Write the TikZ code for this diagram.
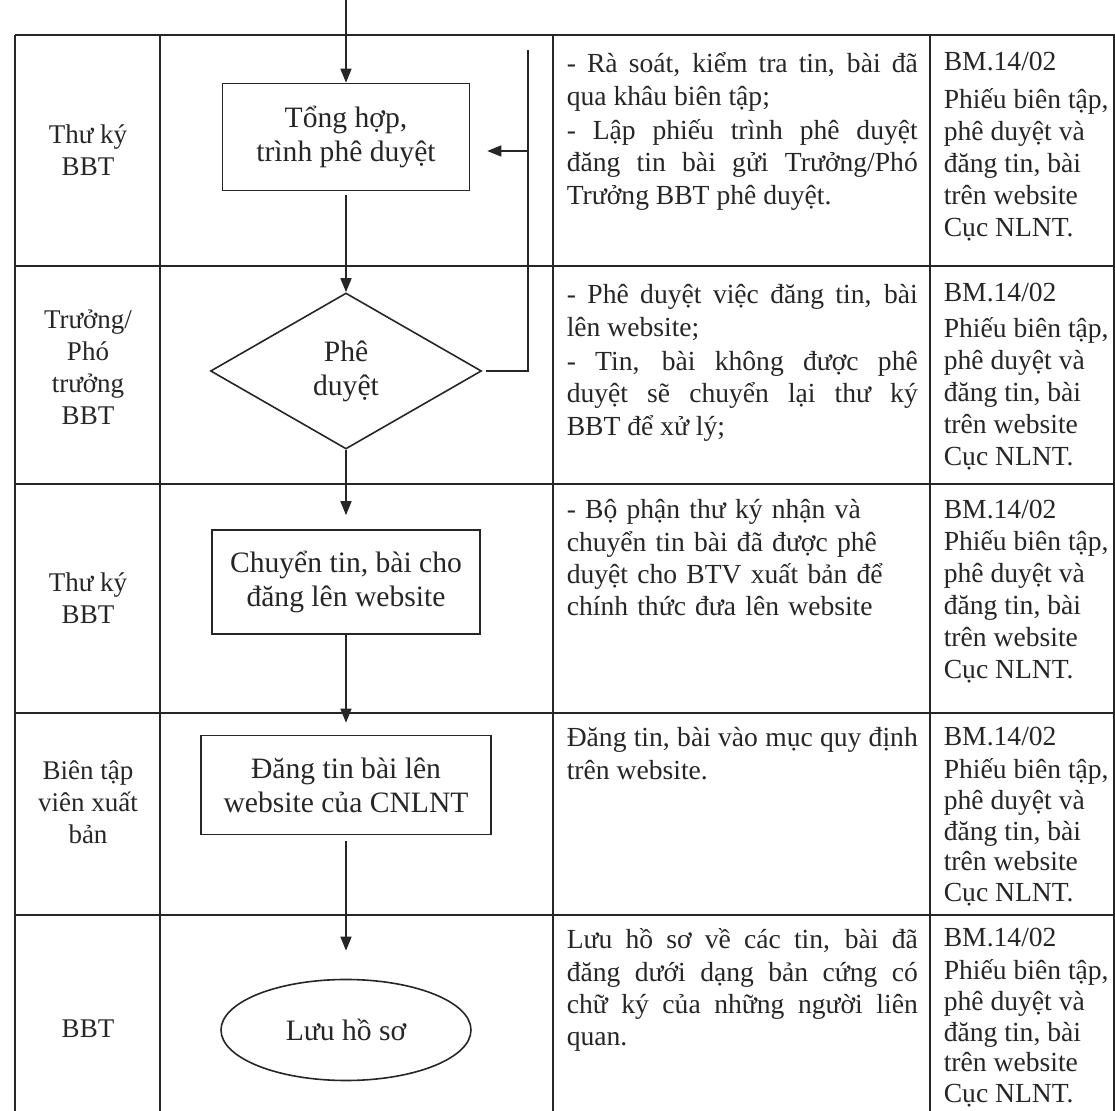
\documentclass[tikz,border=0pt]{standalone}
\usepackage{fontspec}
\setmainfont{Liberation Serif}
\usetikzlibrary{shapes.geometric,arrows.meta}
\setlength{\parindent}{0pt}
\newcommand{\fl}{\rule{0pt}{14pt}}

\begin{document}
\begin{tikzpicture}[x=0.5pt, y=-0.5pt, line width=0.8pt, color=black!85,
    role/.style={align=center, inner sep=0pt, font=\fontsize{13.5}{16}\selectfont},
    desc/.style={anchor=north west, inner sep=0pt, text width=175.5pt, align=justify, font=\fontsize{13.8}{16.2}\selectfont},
    form/.style={anchor=north west, inner sep=0pt, align=left, font=\fontsize{13.8}{16}\selectfont},
    tight/.style={font=\fontsize{13.8}{15.4}\selectfont},
    proc/.style={draw, rectangle, align=center, inner sep=0pt, font=\fontsize{14.8}{17}\selectfont},
    decision/.style={draw, diamond, align=center, inner sep=0pt, minimum width=135.5pt, minimum height=78pt, font=\fontsize{14.8}{17}\selectfont},
    stop/.style={draw, ellipse, align=center, inner sep=0pt, minimum width=125pt, minimum height=50.5pt, font=\fontsize{14.8}{17}\selectfont},
    arr/.style={-{Triangle[length=7pt,width=5.5pt]}}]

\useasboundingbox (0,0) rectangle (1115,1111);

% khung bang
\foreach \y in {35,266,484,713,915}
    \draw (15,\y) -- (1115,\y);
\foreach \x in {15,160,553,930,1114}
    \draw (\x,35) -- (\x,1111);

% cot nguoi thuc hien
\node[role] (r1) at (88,150) {Thư ký\\BBT};
\node[role] (r2) at (88,367) {Trưởng/\\Phó\\trưởng\\BBT};
\node[role] (r3) at (88,598) {Thư ký\\BBT};
\node[role] (r4) at (88,802) {Biên tập\\viên xuất\\bản};
\node[role] (r5) at (88,1029) {BBT};

% luu do
\coordinate (in) at (346,0);
\node[proc, minimum width=123.5pt, minimum height=53.5pt] (th) at (346,137) {Tổng hợp,\\trình phê duyệt};
\node[decision] (pd) at (346,371) {Phê\\duyệt};
\node[proc, minimum width=134pt, minimum height=52pt] (ct) at (346,582) {Chuyển tin, bài cho\\đăng lên website};
\node[proc, minimum width=145pt, minimum height=49.5pt] (dt) at (346,785) {Đăng tin bài lên\\website của CNLNT};
\node[stop] (lh) at (346,1030) {Lưu hồ sơ};
\coordinate (fbtop) at (528,50);
\coordinate (fbin) at (528,151);

\draw[arr] (in) -- (th);
\draw[arr, shorten <=2pt] (th) -- (pd);
\draw[arr, shorten >=7pt] (pd) -- (ct);
\draw[arr, shorten >=6pt] (ct) -- (dt);
\draw[arr, shorten <=3pt, shorten >=14pt] (dt) -- (lh);
\draw[shorten <=2pt] (pd.east) -| (fbtop);
\draw[arr, shorten >=8.5pt] (fbin) -- (fbin -| th.east);

% cot mo ta
\node[desc] (d1) at (566,44) {\fl - Rà soát, kiểm tra tin, bài đã\linebreak qua khâu biên tập;\par\vspace{1pt} - Lập phiếu trình phê duyệt\linebreak đăng tin bài gửi Trưởng/Phó\linebreak Trưởng BBT phê duyệt.};
\node[desc] (d2) at (566,275) {\fl - Phê duyệt việc đăng tin, bài\linebreak lên website;\par\vspace{1pt} - Tin, bài không được phê\linebreak duyệt sẽ chuyển lại thư ký\linebreak BBT để xử lý;};
\node[desc, align=left] (d3) at (566,490) {\fl - Bộ phận thư ký nhận và\\chuyển tin bài đã được phê\\duyệt cho BTV xuất bản để\\chính thức đưa lên website};
\node[desc] (d4) at (566,718) {\fl Đăng tin, bài vào mục quy định\linebreak trên website.};
\node[desc] (d5) at (566,920) {\fl Lưu hồ sơ về các tin, bài đã\linebreak đăng dưới dạng bản cứng có\linebreak chữ ký của những người liên\linebreak quan.};

% cot bieu mau
\node[form] (f1) at (943,42) {\fl BM.14/02\\[3pt]Phiếu biên tập,\\phê duyệt và\\đăng tin, bài\\trên website\\Cục NLNT.};
\node[form] (f2) at (943,273) {\fl BM.14/02\\[2pt]Phiếu biên tập,\\phê duyệt và\\đăng tin, bài\\trên website\\Cục NLNT.};
\node[form] (f3) at (943,490) {\fl BM.14/02\\Phiếu biên tập,\\phê duyệt và\\đăng tin, bài\\trên website\\Cục NLNT.};
\node[form, tight] (f4) at (943,717) {\fl BM.14/02\\[1pt]Phiếu biên tập,\\phê duyệt và\\đăng tin, bài\\trên website\\Cục NLNT.};
\node[form, tight] (f5) at (943,918) {\fl BM.14/02\\[1pt]Phiếu biên tập,\\phê duyệt và\\đăng tin, bài\\trên website\\Cục NLNT.};
\end{tikzpicture}
\end{document}
